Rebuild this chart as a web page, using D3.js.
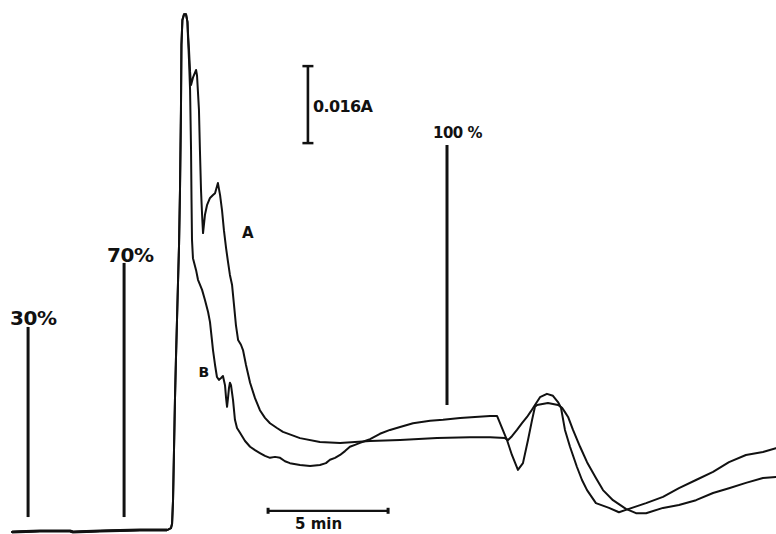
<!DOCTYPE html>
<html><head><meta charset="utf-8">
<script src="https://cdn.jsdelivr.net/npm/d3@7"></script>
<style>
html,body{margin:0;padding:0;background:#fff;}
svg{display:block;}
text{font-family:"DejaVu Sans",sans-serif;font-weight:bold;fill:#111;}
</style></head>
<body>
<script>
// time in minutes, absorbance in mA (0.001 A)
const timesA = [0,1.17,2.42,2.54,3.67,5.33,6.46,6.625,6.67,6.71,6.75,6.79,6.83,6.875,6.92,6.96,7.0,7.04,7.06,7.10,7.17,7.25,7.31,7.33,
  7.375,7.42,7.46,7.54,7.67,7.71,7.79,7.83,7.875,7.92,7.96,8.04,8.125,8.25,8.375,8.46,8.58,8.67,8.75,8.83,8.92,9.0,9.08,9.17,9.25,9.33,9.42,9.54,9.625,9.75,9.92,10.125,10.33,10.54,10.75,11.04,11.29,12.0,12.83,13.67,14.29,14.92,16.17,17.71,19.08,19.92,20.54,20.67,20.83,21.04,21.25,21.46,21.625,21.79,22.0,22.29,22.54,22.75,22.875,23.04,23.25,23.54,23.75,23.96,24.33,24.875,25.29,25.58,26.42,27.125,27.79,28.5,29.21,29.875,30.58,31.29,31.83];
const valuesA = [-0.2,0,0,-0.2,0,0.2,0.2,0.6,1.5,6.4,16.8,27.2,35.5,43.8,52.2,59.4,70.9,87.5,101.0,106.2,107.4,107.4,105.8,103.7,
  100.0,95.4,92.7,94.2,95.8,94.6,87.5,79.2,70.9,65.7,61.9,65.7,67.7,69.2,69.8,70.2,72.3,69.8,66.7,62.5,58.8,55.9,53.2,51.1,47.0,42.8,39.7,38.7,37.6,34.5,30.8,27.6,25.1,23.5,22.4,21.4,20.6,19.3,18.5,18.3,18.5,18.7,18.9,19.3,19.5,19.5,19.3,18.9,19.7,21.0,22.4,23.7,24.9,26.2,27.8,28.5,28.1,26.8,25.6,21.0,17.5,13.3,10.6,8.5,5.8,4.8,3.9,4.4,5.8,7.1,8.9,10.6,12.3,14.3,15.8,16.4,17.2];
const timesB = [0,1.17,2.42,2.54,3.67,5.33,6.46,6.625,6.67,6.71,6.75,6.79,6.83,6.875,6.92,6.96,7.0,7.04,7.06,7.10,7.17,7.25,7.31,7.33,
  7.375,7.42,7.46,7.48,7.5,7.54,7.67,7.75,7.92,8.04,8.17,8.25,8.33,8.375,8.46,8.54,8.625,8.71,8.79,8.875,8.92,8.96,9.0,9.04,9.08,9.125,9.21,9.29,9.375,9.5,9.71,9.92,10.125,10.33,10.54,10.75,10.96,11.17,11.375,11.58,12.0,12.42,12.83,13.08,13.25,13.46,13.67,13.875,14.08,14.29,14.5,14.71,14.92,15.33,15.75,16.17,16.71,17.42,17.96,18.67,19.29,19.92,20.21,20.625,20.83,21.08,21.29,21.5,21.67,21.79,21.875,22.33,22.75,22.92,23.04,23.17,23.375,23.67,23.96,24.33,24.625,25.04,25.58,26.0,26.42,27.125,27.79,28.5,29.21,29.875,30.58,31.29,31.83];
const valuesB = [-0.2,0,0,-0.2,0,0.2,0.2,0.6,1.5,6.4,16.8,27.2,35.5,43.8,52.2,59.4,70.9,87.5,101.0,106.2,107.4,107.4,105.8,103.0,
  97.9,91.6,79.2,68.8,60.5,56.7,54.2,52.2,50.1,48.0,45.5,43.4,39.7,37.6,34.5,32.0,31.4,31.8,32.2,30.3,27.6,25.8,27.6,29.7,30.8,30.3,27.2,23.1,21.4,20.4,18.7,17.5,16.8,16.2,15.6,15.2,15.4,15.2,14.5,14.1,13.7,13.5,13.7,14.1,14.8,15.2,15.8,16.6,17.5,17.9,18.3,18.7,19.1,20.2,21.0,21.6,22.4,22.9,23.1,23.5,23.7,23.9,23.9,18.9,15.8,12.7,14.1,18.9,23.1,25.8,26.2,26.6,26.2,25.6,24.7,23.7,21.0,17.5,14.3,11.0,8.5,6.4,4.6,3.7,3.7,4.8,5.4,6.4,7.9,8.9,10.0,11.0,11.2];
const curveNames = ["A","B"];
const curveLabelTimes = [9.58,7.77];
const curveLabelLevels = [60.9,32.0];
const markerLabels = ["30%","70%","100 %"];
const markerTimes = [0.67,4.67,18.125];
const markerTops = [42.4,55.7,80.2];
const markerBottoms = [2.9,2.9,26.2];
const scaleBarLabel = "0.016A";
const scaleBarTime = 12.33;
const scaleBarFrom = 80.6;
const scaleBarSize = 16;
const timeBarLabel = "5 min";
const timeBarStart = 10.67;
const timeBarLength = 5;
const timeBarLevel = 4.2;

const W = 776, H = 534;
const svg = d3.select("body").append("svg").attr("width", W).attr("height", H);
const x = d3.scaleLinear().domain([0, 5]).range([12, 132]);
const y = d3.scaleLinear().domain([0, 16]).range([531, 454]);

const line = d3.line().x(d => x(d[0])).y(d => y(d[1])).curve(d3.curveLinear);
const seriesA = timesA.map((t, i) => [t, valuesA[i]]);
const seriesB = timesB.map((t, i) => [t, valuesB[i]]);
[seriesA, seriesB].forEach(s => {
  svg.append("path").datum(s).attr("d", line)
    .attr("fill", "none").attr("stroke", "#111").attr("stroke-width", 2)
    .attr("stroke-linejoin", "round").attr("stroke-linecap", "round");
});

// thick start of baseline
svg.append("path").datum(seriesA.filter(d => d[0] <= 6.5)).attr("d", line)
  .attr("fill", "none").attr("stroke", "#111").attr("stroke-width", 3);

// gradient markers
const labelDx = [-18, -17, -14];
const labelSize = [20, 20, 15];
const labelGap = [2, 1, 7];
markerTimes.forEach((t, i) => {
  svg.append("line").attr("x1", x(t)).attr("x2", x(t))
    .attr("y1", y(markerTops[i])).attr("y2", y(markerBottoms[i]))
    .attr("stroke", "#111").attr("stroke-width", 3);
  svg.append("text").attr("x", x(t) + labelDx[i]).attr("y", y(markerTops[i]) - labelGap[i])
    .attr("font-size", labelSize[i]).attr("letter-spacing", -0.5).text(markerLabels[i]);
});

// curve labels
curveNames.forEach((n, i) => {
  svg.append("text").attr("x", x(curveLabelTimes[i])).attr("y", y(curveLabelLevels[i]))
    .attr("font-size", i === 0 ? 15 : 14).text(n);
});

// absorbance scale bar
const sbx = x(scaleBarTime), sy1 = y(scaleBarFrom), sy2 = y(scaleBarFrom + scaleBarSize);
svg.append("line").attr("x1", sbx).attr("x2", sbx).attr("y1", sy1).attr("y2", sy2)
  .attr("stroke", "#111").attr("stroke-width", 2.6);
[sy1, sy2].forEach(v => svg.append("line").attr("x1", sbx - 5.5).attr("x2", sbx + 5.5)
  .attr("y1", v).attr("y2", v).attr("stroke", "#111").attr("stroke-width", 2.5));
svg.append("text").attr("x", sbx + 5).attr("y", (sy1 + sy2) / 2 + 7.5)
  .attr("font-size", 16).attr("letter-spacing", -0.6).text(scaleBarLabel);

// time scale bar
const tx1 = x(timeBarStart), tx2 = x(timeBarStart + timeBarLength), ty = y(timeBarLevel);
svg.append("line").attr("x1", tx1).attr("x2", tx2).attr("y1", ty).attr("y2", ty)
  .attr("stroke", "#111").attr("stroke-width", 2.2);
[tx1, tx2].forEach(v => svg.append("line").attr("x1", v).attr("x2", v)
  .attr("y1", ty - 3).attr("y2", ty + 3).attr("stroke", "#111").attr("stroke-width", 3));
svg.append("text").attr("x", tx1 + 27).attr("y", 529)
  .attr("font-size", 15).text(timeBarLabel);
</script>
</body></html>
